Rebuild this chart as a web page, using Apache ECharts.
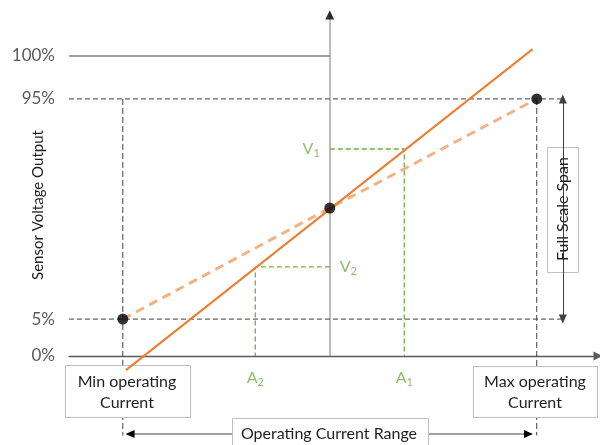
<!DOCTYPE html>
<html><head><meta charset="utf-8">
<script src="https://cdn.jsdelivr.net/npm/echarts@6/dist/echarts.min.js"></script>
<style>html,body{margin:0;padding:0;background:#fff}#c{width:600px;height:445px}</style>
</head><body><div id="c"></div>
<script>
// Schematic levels (y) and current positions (x)
const yTickLevels = [0, 12.3, 85.7, 100];
const yTickLabels = ['0%', '5%', '95%', '100%'];
const idealX = [-100, 0, 100];          // min operating, zero, max operating current
const idealY = [12.3, 49.3, 85.7];      // 5%, midpoint, 95% output
const actualX = [-98.5, 98];
const actualY = [-4.7, 102.3];
const aX = [-36, 36];                   // A2, A1
const aSub = ['2', '1'];
const vY = [29.7, 69];                  // V2, V1
const vSub = ['2', '1'];

// layout constants
const X_MIN = -126, X_MAX = 129.6, Y_MIN = 0, Y_MAX = 114.67;
const GUIDE_RIGHT = 113.5, DROP_BOTTOM = -26.5, SPAN_X = 112.6, RANGE_Y = -26;
const RANGE_L = -96.5, RANGE_R = 96;

const FONT = 'Lato';
const green = '#70ad47';
const gray = '#404040';

const chart = echarts.init(document.getElementById('c'), null, {renderer: 'canvas'});

function lineSeries(data, style, extra) {
  return Object.assign({
    type: 'line', data: data, symbol: 'none', clip: false, silent: true,
    lineStyle: style, animation: false, xAxisIndex: 0, yAxisIndex: 0
  }, extra || {});
}

const rich = {
  m: {fontSize: 16, color: green, fontFamily: FONT, lineHeight: 20},
  s: {fontSize: 11, color: green, fontFamily: FONT, lineHeight: 10, verticalAlign: 'bottom'}
};

const series = [
  lineSeries([[X_MIN, yTickLevels[3]], [0, yTickLevels[3]]], {color: gray, width: 1}),
  lineSeries([[X_MIN, yTickLevels[2]], [GUIDE_RIGHT, yTickLevels[2]]], {color: gray, width: 1, type: [5, 3]}),
  lineSeries([[X_MIN, yTickLevels[1]], [GUIDE_RIGHT, yTickLevels[1]]], {color: gray, width: 1, type: [5, 3]}, {
    markLine: {
      silent: true, animation: false,
      symbol: ['triangle', 'triangle'], symbolSize: [8, 9],
      label: {show: false},
      lineStyle: {color: gray, width: 1, type: 'solid'},
      data: [
        [{coord: [SPAN_X, idealY[2]]}, {coord: [SPAN_X, idealY[0]]}]
      ]
    }
  }),
  lineSeries([[idealX[0], idealY[2]], [idealX[0], DROP_BOTTOM]], {color: gray, width: 1, type: [6, 3]}),
  lineSeries([[idealX[2], idealY[2]], [idealX[2], DROP_BOTTOM]], {color: gray, width: 1, type: [6, 3]}),
  // operating current range arrow
  lineSeries([{value: [RANGE_L, RANGE_Y], symbolRotate: 90}, {value: [RANGE_R, RANGE_Y], symbolRotate: -90}],
    {color: gray, width: 1}, {symbol: 'triangle', symbolSize: [8, 9], showSymbol: true,
      itemStyle: {color: '#000'}}),
  // green construction lines
  lineSeries([[0, vY[1]], [aX[1], vY[1]], [aX[1], 0]], {color: green, width: 1.3, type: [5, 3]}),
  lineSeries([[0, vY[0]], [aX[0], vY[0]], [aX[0], 0]], {color: green, width: 1.3, type: [5, 3]}),
  // ideal (dashed) response
  lineSeries(idealX.map((x, i) => [x, idealY[i]]), {color: '#f4b183', width: 3, type: [9, 6]}, {z: 9}),
  // actual response
  lineSeries(actualX.map((x, i) => [x, actualY[i]]), {color: '#ed7d31', width: 2}, {z: 10}),
  // calibration points
  {
    type: 'scatter', data: idealX.map((x, i) => [x, idealY[i]]), symbol: 'circle', symbolSize: 11,
    itemStyle: {color: '#000'}, z: 12, clip: false, silent: true, animation: false
  },
  // y axis arrow head
  {
    type: 'scatter', data: [[0, 113.7]], symbol: 'triangle', symbolSize: [9, 9],
    itemStyle: {color: '#000'}, z: 12, clip: false, silent: true, animation: false
  },
  // A labels
  {
    type: 'scatter', data: aX.map((x, i) => ({value: [x, 0], sub: aSub[i]})), symbolSize: 0,
    clip: false, silent: true, animation: false, z: 12,
    label: {show: true, position: 'bottom', distance: 12,
      formatter: p => '{m|A}{s|' + p.data.sub + '}', rich: rich}
  },
  // V labels
  {
    type: 'scatter', data: [{value: [0, vY[1]], sub: vSub[1], label: {position: 'left'}},
                            {value: [0, vY[0]], sub: vSub[0], label: {position: 'right'}}],
    symbolSize: 0, clip: false, silent: true, animation: false, z: 12,
    label: {show: true, distance: 10,
      formatter: p => '{m|V}{s|' + p.data.sub + '}', rich: rich}
  }
];

const txt = (t, x, y, size, extra) => Object.assign({type: 'text', x: x, y: y, z: 6,
  style: {text: t, font: size + 'px Lato', fill: '#1f1f1f', lineHeight: 21,
    align: 'center', verticalAlign: 'middle', textAlign: 'center', textVerticalAlign: 'middle'}}, extra || {});
const box = (x, y, w, h) => ({type: 'rect', shape: {x: x + 0.5, y: y + 0.5, width: w, height: h}, z: 5,
  style: {fill: '#fff', stroke: '#bfbfbf', lineWidth: 1}});

const option = {
  animation: false,
  backgroundColor: '#fff',
  grid: {left: 69, right: 2, top: 12, bottom: 89, containLabel: false},
  xAxis: {
    type: 'value', min: X_MIN, max: X_MAX,
    axisLine: {show: true, onZero: true, symbol: ['none', 'triangle'], symbolSize: [9, 9],
      lineStyle: {color: '#595959', width: 1.3}},
    axisTick: {show: false}, axisLabel: {show: false}, splitLine: {show: false}
  },
  yAxis: [{
    type: 'value', min: Y_MIN, max: Y_MAX, position: 'left',
    axisLine: {show: true, onZero: true, lineStyle: {color: '#a6a6a6', width: 1.5}},
    axisTick: {show: false}, axisLabel: {show: false}, splitLine: {show: false}
  }, {
    type: 'value', min: Y_MIN, max: Y_MAX, position: 'left',
    axisLine: {show: false, onZero: false},
    axisTick: {show: false}, splitLine: {show: false},
    axisLabel: {
      show: true, customValues: yTickLevels, margin: 14,
      fontFamily: FONT, fontSize: 17, color: '#595959',
      formatter: v => {
        let best = 0;
        yTickLevels.forEach((l, i) => { if (Math.abs(l - v) < Math.abs(yTickLevels[best] - v)) best = i; });
        return yTickLabels[best];
      }
    }
  }],
  graphic: [
    txt('Sensor Voltage Output', 38, 205, 15, {rotation: Math.PI / 2, z: 20}),
    box(65, 365, 125, 52),
    txt('Min operating\nCurrent', 127, 392, 16),
    box(473, 366, 124, 51),
    txt('Max operating\nCurrent', 535, 392, 16),
    box(232, 418, 196, 40),
    txt('Operating Current Range', 329, 434, 16),
    box(547, 147, 31, 125),
    txt('Full Scale Span', 563, 209, 16, {rotation: Math.PI / 2})
  ],
  series: series
};
chart.setOption(option);
</script>
</body></html>
